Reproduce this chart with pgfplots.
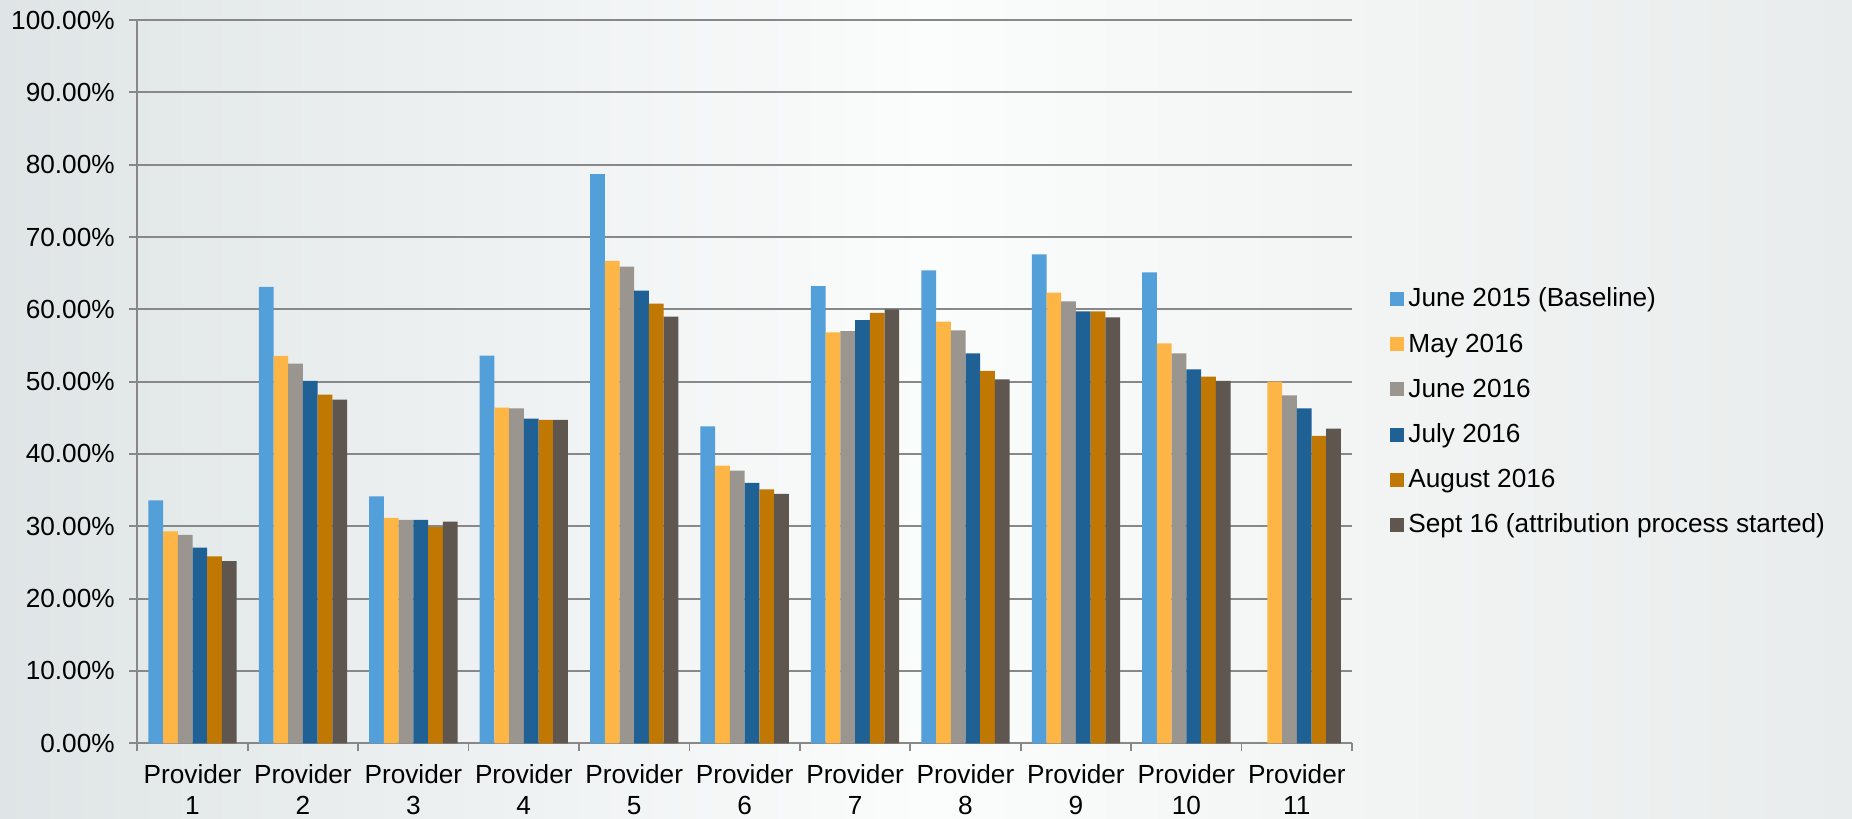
\documentclass[border=0pt]{standalone}
\usepackage{fontspec}
\setmainfont{Liberation Sans}
\usepackage{pgfplots}
\usepackage{pgfplotstable}
\pgfplotsset{compat=1.18}

\definecolor{cJunA}{HTML}{539FD9}
\definecolor{cMay}{HTML}{FDB645}
\definecolor{cJunB}{HTML}{9B9590}
\definecolor{cJul}{HTML}{1F6095}
\definecolor{cAug}{HTML}{C07802}
\definecolor{cSep}{HTML}{5F5650}
\definecolor{axgray}{HTML}{888888}
\definecolor{bgedge}{HTML}{DFE5E6}
\definecolor{bgright}{HTML}{E9ECEC}
\definecolor{bgmid}{HTML}{FBFCFC}

\newcommand\chartfont{\fontsize{13.1bp}{15.5bp}\selectfont}

% share of patients per provider, in percent
\pgfplotstableread{
x  junA  may   junB  jul   aug   sep
1  33.6  29.3  28.8  27.05 25.85 25.2
2  63.1  53.55 52.5  50.1  48.2  47.5
3  34.15 31.15 30.9  30.9  29.9  30.65
4  53.6  46.4  46.3  44.9  44.7  44.7
5  78.7  66.7  65.9  62.6  60.8  59.0
6  43.8  38.4  37.7  36.0  35.1  34.5
7  63.2  56.8  57.0  58.5  59.5  60.0
8  65.4  58.3  57.1  53.9  51.5  50.3
9  67.6  62.3  61.1  59.7  59.7  58.9
10 65.1  55.3  53.9  51.7  50.7  50.1
11 nan   50.0  48.1  46.3  42.5  43.5
}\provdata

\begin{document}
\begin{tikzpicture}
\useasboundingbox (-68.65bp,-37.85bp) rectangle (857.35bp,371.65bp);
\shade[left color=bgedge, right color=bgright, middle color=bgmid]
  (-68.65bp,-37.85bp) rectangle (857.35bp,371.65bp);
\begin{axis}[
  scale only axis, width=607.35bp, height=361.65bp,
  ybar=0pt, bar width=0.1333,
  xmin=0.5, xmax=11.5, ymin=0, ymax=100,
  xtick={0.5,1.5,...,11.5},
  xticklabels={Provider\\1,Provider\\2,Provider\\3,Provider\\4,Provider\\5,
    Provider\\6,Provider\\7,Provider\\8,Provider\\9,Provider\\10,Provider\\11,{}},
  xticklabel style={align=center, xshift=27.6bp, yshift=-3bp},
  ytick={0,10,...,100},
  yticklabel={\pgfmathprintnumber[fixed,fixed zerofill,precision=2]{\tick}\%},
  yticklabel style={xshift=-3.8bp},
  /pgf/number format/assume math mode=true,
  ticklabel style={font=\chartfont, text=black},
  axis x line*=bottom, axis y line*=left,
  axis line style={draw=axgray, line width=0.9bp},
  tick align=outside, major tick length=4bp,
  tick style={draw=axgray, line width=0.9bp},
  ymajorgrids, grid style={draw=axgray, line width=0.9bp},
  legend image code/.code={\fill[#1,draw=none] (0bp,-2.5bp) rectangle (7bp,4.5bp);},
  legend cell align=left,
  legend style={at={(1.0313,0.4553)}, anchor=west, draw=none, fill=none,
    inner sep=0pt, row sep=6.6bp,
    nodes={inner sep=2bp, font=\chartfont, text height=9bp, text depth=3bp}},
]
\addplot[fill=cJunA, draw=none] table[x=x, y=junA] {\provdata};
\addlegendentry{June 2015 (Baseline)}
\addplot[fill=cMay, draw=none] table[x=x, y=may] {\provdata};
\addlegendentry{May 2016}
\addplot[fill=cJunB, draw=none] table[x=x, y=junB] {\provdata};
\addlegendentry{June 2016}
\addplot[fill=cJul, draw=none] table[x=x, y=jul] {\provdata};
\addlegendentry{July 2016}
\addplot[fill=cAug, draw=none] table[x=x, y=aug] {\provdata};
\addlegendentry{August 2016}
\addplot[fill=cSep, draw=none] table[x=x, y=sep] {\provdata};
\addlegendentry{Sept 16 (attribution process started)}
\end{axis}
\end{tikzpicture}
\end{document}
